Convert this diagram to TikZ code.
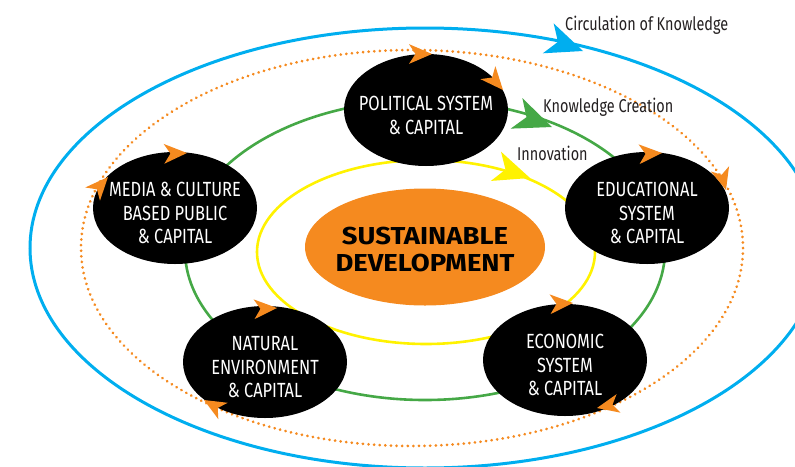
\documentclass[tikz,border=0pt]{standalone}
\usepackage{fontspec}
\setmainfont{Fira Sans}
\newfontfamily\capsfont[FakeStretch=0.8]{Fira Sans}
\newfontfamily\tagfont[FakeStretch=0.78]{Fira Sans}
\newfontfamily\corefont[FakeStretch=1.12]{Fira Sans}
\usetikzlibrary{shapes.geometric}

\definecolor{ringblue}{HTML}{00AEEF}
\definecolor{ringgreen}{HTML}{45A846}
\definecolor{ringyellow}{HTML}{FFF200}
\definecolor{flow}{HTML}{F58A1F}
\definecolor{inktext}{HTML}{231F20}

% raise the first text line so the block sits a little below the node centre
\newcommand\lowstrut{\rule{0pt}{25pt}}
\newcommand\corestrut{\rule{0pt}{23pt}}
% filled arrowhead: #1 tip point, #2 direction (deg), #3 colour, #4 length
\newcommand\ringhead[4]{%
  \fill[#3,shift={#1},rotate=#2,scale=#4] (0,0) -- (-1,0.43) -- (-0.72,0) -- (-1,-0.43) -- cycle;}

\begin{document}
\begin{tikzpicture}[x=1pt,y=-1pt,
  capital/.style={ellipse, fill=black, text=white, minimum width=164pt,
    minimum height=112pt, inner xsep=-26pt, inner ysep=0pt, align=center,
    font=\capsfont\fontsize{20.5}{23.5}\selectfont},
  core/.style={ellipse, fill=flow, text=black, minimum width=240pt,
    minimum height=117pt, inner xsep=-24pt, inner ysep=0pt, align=center,
    font=\corefont\bfseries\fontsize{24.5}{27}\selectfont},
  tag/.style={inner sep=0pt, anchor=base west, text=inktext,
    font=\tagfont\fontsize{18.5}{20}\selectfont},
  dotring/.style={flow, line width=3pt, line cap=round,
    dash pattern=on 0.01pt off 5.6pt}]
\useasboundingbox (0,0) rectangle (795,466);

% nested rings
\draw[line width=3pt, ringblue] (425,248) ellipse [x radius=395, y radius=220];
\draw[dotring] (412,248) ellipse [x radius=331, y radius=198];
\draw[line width=2.6pt, ringgreen] (425,250) ellipse [x radius=240, y radius=150];
\draw[line width=2.6pt, ringyellow] (426,252) ellipse [x radius=169, y radius=92];

% centre
\node[core] (sd) at (425,247) {\corestrut SUSTAINABLE\\DEVELOPMENT};

% the five capitals
\node[capital] (pol) at (426,110) {\lowstrut POLITICAL SYSTEM\\\& CAPITAL};
\node[capital] (edu) at (647,208) {\lowstrut EDUCATIONAL\\SYSTEM\\\& CAPITAL};
\node[capital] (eco) at (565,360) {\lowstrut ECONOMIC\\SYSTEM\\\& CAPITAL};
\node[capital] (nat) at (265,362) {\lowstrut NATURAL\\ENVIRONMENT\\\& CAPITAL};
\node[capital] (med) at (175,208) {\lowstrut MEDIA \& CULTURE\\BASED PUBLIC\\\& CAPITAL};

% ring direction heads
\ringhead{(583,51)}{-20}{ringblue}{37}
\ringhead{(552,127)}{-21}{ringgreen}{38}
\ringhead{(530,178)}{-19}{ringyellow}{36}

% circulation heads around the capitals
\ringhead{(432,54)}{0}{flow}{23}
\ringhead{(503,90)}{-49}{flow}{23}
\ringhead{(187,153)}{2}{flow}{23}
\ringhead{(108,177)}{48}{flow}{23}
\ringhead{(277,308)}{3}{flow}{23}
\ringhead{(204,400)}{150}{flow}{22}
\ringhead{(573,303)}{3}{flow}{23}
\ringhead{(597,408)}{192}{flow}{22}
\ringhead{(662,153)}{3}{flow}{23}
\ringhead{(726,190)}{-74}{flow}{22}

% ring labels
\node[tag] (circ) at (565,30) {Circulation of Knowledge};
\node[tag] (make) at (543,112) {Knowledge Creation};
\node[tag] (inno) at (517,160) {Innovation};
\end{tikzpicture}
\end{document}
